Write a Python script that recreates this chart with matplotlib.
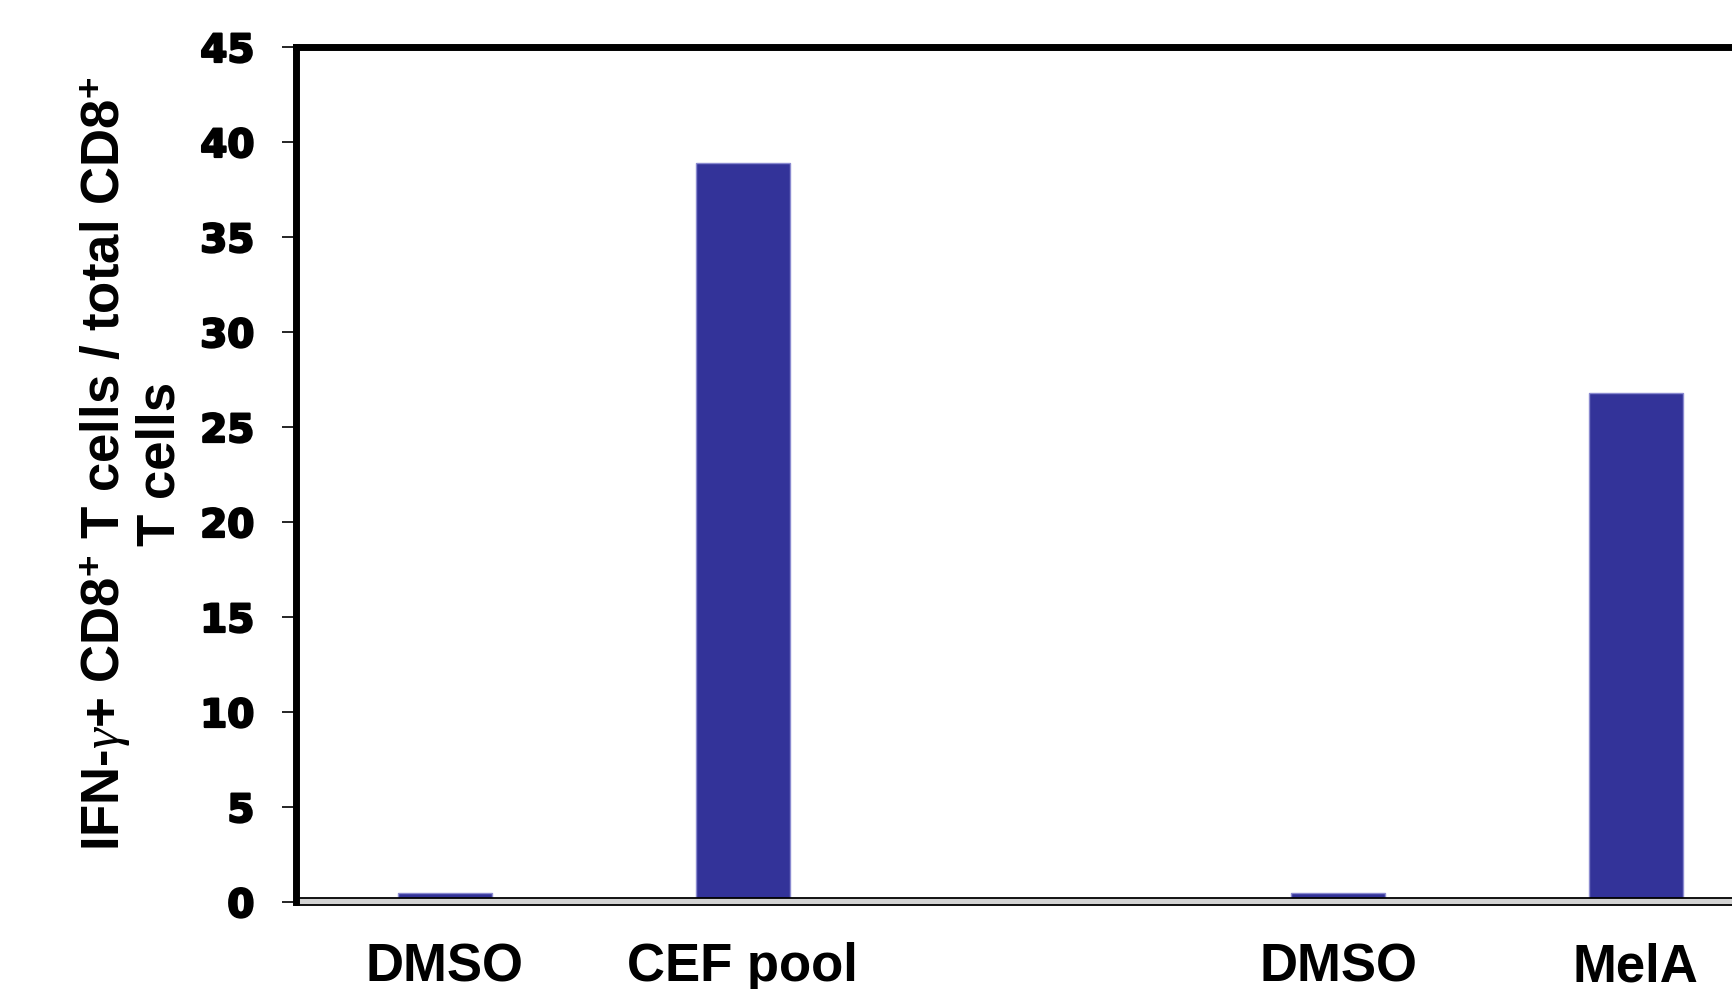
import matplotlib
matplotlib.use("Agg")
import matplotlib.pyplot as plt
from matplotlib.patches import Rectangle
import matplotlib.patheffects as pe

# Data
positions = [0, 1, 3, 4]
categories = ["DMSO", "CEF pool", "DMSO", "MelA"]
values = [0.5, 38.9, 0.5, 26.8]
yticks = [0, 5, 10, 15, 20, 25, 30, 35, 40, 45]

plt.rcParams['mathtext.fontset'] = 'custom'
plt.rcParams['mathtext.rm'] = 'Liberation Sans:bold'
plt.rcParams['mathtext.bf'] = 'Liberation Sans:bold'
plt.rcParams['mathtext.it'] = 'Liberation Serif:italic'

W, H = 1733, 989
fig = plt.figure(figsize=(W / 100, H / 100), dpi=100)
ax = fig.add_axes([296 / W, 1 - 902 / H, 1 - 296 / W, (902 - 47) / H])

ax.bar(positions, values, width=0.316, color="#333399", edgecolor="#8a8ad0",
       linewidth=1.0, zorder=2)

ax.set_xlim(-0.5, 4.326)
ax.set_ylim(0, 45)

# floor
floor = Rectangle((-0.5, -0.17), 6, 0.37, transform=ax.transData,
                  facecolor="#d3d3d3", edgecolor="black", linewidth=1.3,
                  clip_on=False, zorder=3)
ax.add_patch(floor)

for s in ["right", "bottom"]:
    ax.spines[s].set_visible(False)
ax.spines["left"].set_linewidth(5)
ax.spines["top"].set_linewidth(5)
ax.spines["left"].set_zorder(4)

ax.set_yticks(yticks)
ax.set_yticklabels([str(v) for v in yticks], fontfamily="DejaVu Sans",
                   fontweight="bold", fontsize=28)
for t in ax.get_yticklabels():
    t.set_path_effects([pe.withStroke(linewidth=1.6, foreground="black")])
ax.tick_params(axis="y", direction="out", length=10, width=1.2, pad=20)

ax.set_xticks(positions)
ax.set_xticklabels(categories, fontfamily="Liberation Sans", fontweight="bold",
                   fontsize=38)
ax.tick_params(axis="x", length=0, pad=57)
for t in ax.get_xticklabels():
    t.set_verticalalignment("baseline")

fig.text(132 / W, 1 - 464 / H,
         r"IFN-$\gamma$+ CD8$^{\mathbf{+}}$ T cells / total CD8$^{\mathbf{+}}$" + "\nT cells",
         rotation=90, ha="center", va="center", multialignment="center",
         fontfamily="Liberation Sans", fontweight="bold", fontsize=38,
         linespacing=1.1)

fig.savefig("out.png", dpi=100)
